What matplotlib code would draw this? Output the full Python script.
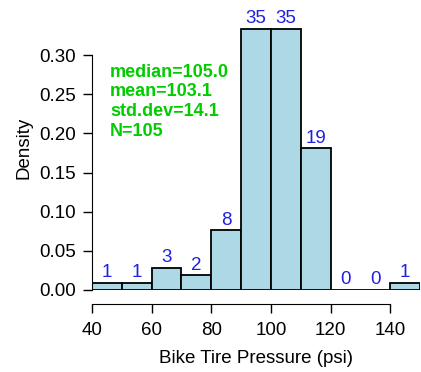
import matplotlib
matplotlib.use("Agg")
from matplotlib import pyplot as plt
import numpy as np

bin_edges = [40, 50, 60, 70, 80, 90, 100, 110, 120, 130, 140, 150]
counts = [1, 1, 3, 2, 8, 35, 35, 19, 0, 0, 1]
n_total = 105
stats_lines = ["median=105.0", "mean=103.1", "std.dev=14.1", "N=105"]
x_ticks = [40, 60, 80, 100, 120, 140]
y_ticks = [0.00, 0.05, 0.10, 0.15, 0.20, 0.25, 0.30]

plt.rc("font", family=["Liberation Sans", "DejaVu Sans"], size=13.5)

edges = np.array(bin_edges)
dens = np.array(counts) / n_total
lefts = edges[:-1]
widths = np.diff(edges)

fig = plt.figure(figsize=(4.21, 3.72), dpi=100)
ax = fig.add_axes([92 / 421, 82 / 372, 328 / 421, 285 / 372])

ax.bar(lefts, dens, width=widths, align="edge", color="#add8e6",
       edgecolor="black", linewidth=1.3)
for x, c, d in zip(lefts + widths / 2, counts, dens):
    ax.annotate(str(c), (x, d), xytext=(0, 4), textcoords="offset points",
                ha="center", va="baseline", color="#2020e0", fontsize=13.5)

ax.text(46, 0.289, "\n".join(stats_lines), color="#00cc00", fontweight="bold",
        fontsize=13, va="top", ha="left", linespacing=1.2)

ax.set_xlim(40, 150)
ax.set_ylim(0, 0.364)
for s in ["top", "right"]:
    ax.spines[s].set_visible(False)
ax.spines["bottom"].set_position(("outward", 10))
ax.spines["bottom"].set_bounds(40, 140)
ax.spines["left"].set_bounds(0, 0.30)
ax.set_xticks(x_ticks)
ax.set_yticks(y_ticks)
ax.set_yticklabels([f"{v:.2f}" for v in y_ticks])
ax.tick_params(length=6.5, width=1.0, labelsize=13.5)
ax.tick_params(axis="x", pad=6.5)
ax.tick_params(axis="y", pad=5)
ax.set_xlabel("Bike Tire Pressure (psi)", fontsize=13.5, labelpad=8)
ax.set_ylabel("Density", fontsize=13.5, labelpad=5)

fig.savefig("out.png", dpi=100)
